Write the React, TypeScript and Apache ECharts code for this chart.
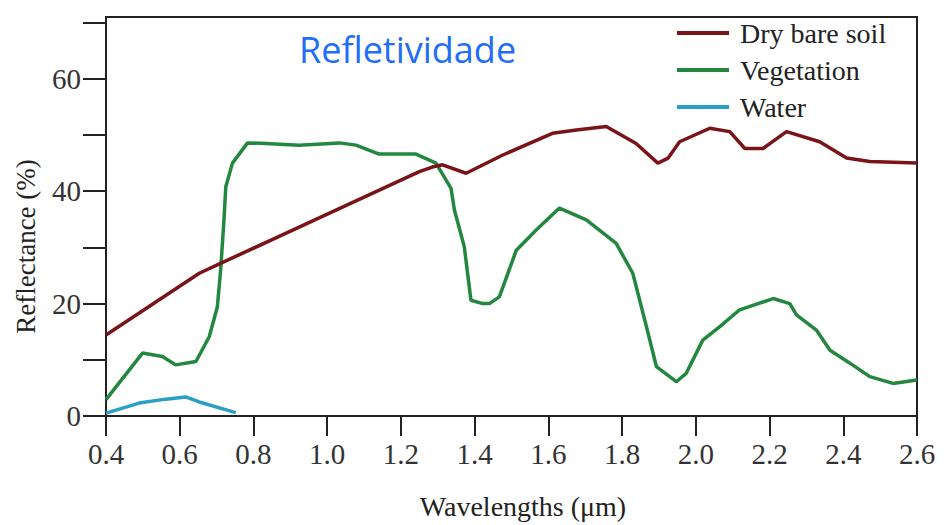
import React, { useEffect, useRef } from "react";
import * as echarts from "echarts";

const titleText = "Refletividade";
const seriesNames = ["Dry bare soil", "Vegetation", "Water"];
const seriesColors = ["#7a1418", "#23873f", "#2a9fc6"];

const soilWl = [0.4, 0.653, 0.712, 0.924, 1.25, 1.285, 1.313, 1.377, 1.475, 1.611, 1.676, 1.757, 1.838, 1.897, 1.925, 1.956, 2.038, 2.092, 2.133, 2.182, 2.246, 2.336, 2.409, 2.472, 2.6];
const soilRefl = [14.4, 25.4, 27.2, 33.6, 43.5, 44.3, 44.7, 43.2, 46.4, 50.3, 50.9, 51.5, 48.5, 45.0, 45.9, 48.8, 51.2, 50.6, 47.6, 47.6, 50.6, 48.8, 45.9, 45.3, 45.0];

const vegWl = [0.4, 0.499, 0.553, 0.589, 0.644, 0.68, 0.702, 0.711, 0.72, 0.725, 0.743, 0.784, 0.834, 0.924, 1.033, 1.078, 1.141, 1.241, 1.295, 1.336, 1.345, 1.372, 1.39, 1.422, 1.44, 1.467, 1.513, 1.567, 1.63, 1.703, 1.784, 1.829, 1.866, 1.893, 1.947, 1.974, 2.019, 2.065, 2.119, 2.21, 2.255, 2.273, 2.327, 2.364, 2.418, 2.472, 2.535, 2.6];
const vegRefl = [2.9, 11.2, 10.6, 9.1, 9.7, 14.1, 19.4, 26.0, 34.9, 40.8, 45.0, 48.6, 48.5, 48.2, 48.6, 48.2, 46.6, 46.6, 45.0, 40.5, 36.7, 30.1, 20.6, 20.0, 20.0, 21.2, 29.5, 33.1, 37.0, 34.9, 30.7, 25.4, 15.9, 8.8, 6.1, 7.6, 13.5, 15.9, 18.9, 20.9, 20.0, 18.0, 15.3, 11.7, 9.4, 7.0, 5.8, 6.4];

const waterWl = [0.4, 0.49, 0.562, 0.616, 0.653, 0.752];
const waterRefl = [0.5, 2.3, 3.0, 3.4, 2.5, 0.6];

const xTicks = { min: 0.4, max: 2.6, interval: 0.2 };
const yTicks = { min: 0, max: 71, interval: 10, labelEvery: 20 };

const pairs = (xs: number[], ys: number[]) => xs.map((x, i) => [x, ys[i]]);

export default function App() {
  const ref = useRef<HTMLDivElement>(null);
  useEffect(() => {
    if (!ref.current) return;
    const chart = echarts.init(ref.current, undefined, { renderer: "svg" });
    const serif = "Liberation Serif";
    const dataSets = [pairs(soilWl, soilRefl), pairs(vegWl, vegRefl), pairs(waterWl, waterRefl)];
    chart.setOption({
      animation: false,
      backgroundColor: "#ffffff",
      title: {
        text: titleText,
        left: 294,
        top: 26,
        textStyle: { color: "#1f6ef5", fontFamily: "Open Sans", fontSize: 36, fontWeight: "normal" },
      },
      legend: {
        orient: "vertical",
        left: 672,
        top: 13,
        itemWidth: 52,
        itemHeight: 4,
        itemGap: 7,
        icon: "rect",
        data: seriesNames,
        textStyle: { fontFamily: serif, fontSize: 28, color: "#222", lineHeight: 30, padding: [0, 0, 0, 6] },
      },
      grid: {
        left: 106,
        right: 28,
        top: 17,
        bottom: 109,
        containLabel: false,
        outerBoundsMode: "none",
        show: true,
        borderColor: "#222",
        borderWidth: 2,
        backgroundColor: "transparent",
      },
      xAxis: {
        type: "value",
        min: xTicks.min,
        max: xTicks.max,
        interval: xTicks.interval,
        name: "Wavelengths (μm)",
        nameLocation: "middle",
        nameGap: 76,
        nameTextStyle: { fontFamily: serif, fontSize: 28, color: "#222", padding: [0, 0, 0, 23] },
        axisLine: { show: true, onZero: false, lineStyle: { color: "#222", width: 2 } },
        axisTick: { show: true, inside: false, length: 20, lineStyle: { color: "#222", width: 2 } },
        axisLabel: {
          fontFamily: serif,
          fontSize: 29,
          color: "#333",
          margin: 23,
          formatter: (v: number) => v.toFixed(1),
        },
        splitLine: { show: false },
      },
      yAxis: {
        type: "value",
        min: yTicks.min,
        max: yTicks.max,
        interval: yTicks.interval,
        name: "Reflectance (%)",
        nameLocation: "middle",
        nameRotate: 90,
        nameGap: 67,
        nameTextStyle: { fontFamily: serif, fontSize: 27, color: "#222", padding: [0, 60, 0, 0] },
        axisLine: { show: true, lineStyle: { color: "#222", width: 2 } },
        axisTick: { show: true, inside: false, length: 23, lineStyle: { color: "#222", width: 2 } },
        axisLabel: {
          fontFamily: serif,
          fontSize: 29,
          color: "#333",
          margin: 25,
          showMaxLabel: false,
          formatter: (v: number) => (Math.round(v) % yTicks.labelEvery === 0 && v <= 70 ? String(v) : ""),
        },
        splitLine: { show: false },
      },
      series: seriesNames.map((name, i) => ({
        name,
        type: "line",
        data: dataSets[i],
        showSymbol: false,
        symbol: "none",
        smooth: false,
        lineStyle: { color: seriesColors[i], width: 3.5 },
        itemStyle: { color: seriesColors[i] },
        z: 3 - i,
      })),
    });
    return () => chart.dispose();
  }, []);
  return <div ref={ref} style={{ position: "fixed", left: 0, top: 0, width: 945, height: 525 }} />;
}
